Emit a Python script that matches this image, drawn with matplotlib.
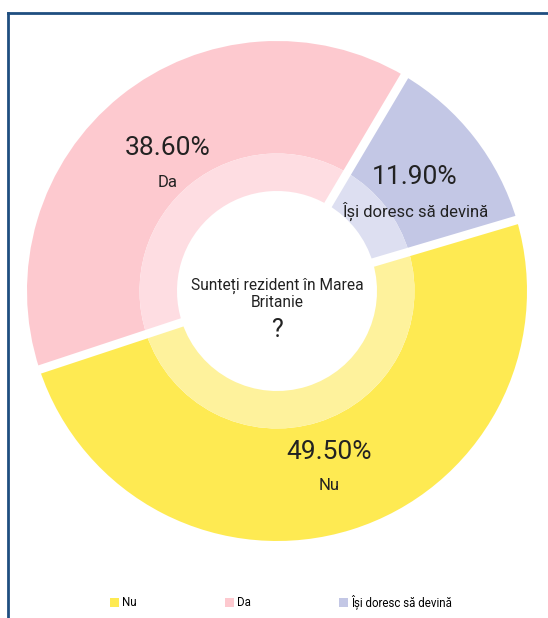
import matplotlib.pyplot as plt
from matplotlib.patches import Patch
from matplotlib.lines import Line2D
import numpy as np

plt.rcParams['font.family'] = ['Roboto', 'DejaVu Sans']

# Data
categories = ['Nu', 'Da', 'Își doresc să devină']
values = [49.5, 38.6, 11.9]
colors = ['#FEEA52', '#FDC9CF', '#C3C7E5']
light_colors = ['#FEF29C', '#FEDDE2', '#DDDFF1']
center_title = 'Sunteți rezident în Marea\nBritanie'

W, H = 548, 618
fig = plt.figure(figsize=(W / 100, H / 100), dpi=100)
fig.patch.set_facecolor('white')

# donut centre ~ (277, 291) px, outer radius ~250 px
cx, cy, R = 277, 291, 250
ax = fig.add_axes([(cx - R) / W, (H - cy - R) / H, 2 * R / W, 2 * R / H])
ax.set_aspect('equal')
ax.axis('off')

start = 16.5
# outer (saturated) ring
wedges, _ = ax.pie(values, colors=colors, startangle=start, counterclock=False,
                   radius=1.0, wedgeprops=dict(width=1.0 - 0.55, linewidth=0))
# inner (lighter) ring
ax.pie(values, colors=light_colors, startangle=start, counterclock=False,
       radius=0.55, wedgeprops=dict(width=0.55 - 0.40, linewidth=0))
# white gaps between slices
for w in wedges:
    a = np.deg2rad(w.theta1)
    ax.plot([0.3 * np.cos(a), 1.05 * np.cos(a)], [0.3 * np.sin(a), 1.05 * np.sin(a)],
            color='white', linewidth=6.2, solid_capstyle='butt')
ax.set_xlim(-1, 1)
ax.set_ylim(-1, 1)

# slice labels
r_lab = 0.70
for w, val, name in zip(wedges, values, categories):
    mid = np.deg2rad((w.theta1 + w.theta2) / 2)
    x, y = r_lab * np.cos(mid), r_lab * np.sin(mid) - 0.04
    ax.text(x, y + 0.065, f'{val:.2f}%', ha='center', va='center', fontsize=19, color='#222222')
    ax.text(x, y - 0.07, name, ha='center', va='center', fontsize=12, color='#222222')

# centre text
ax.text(0, -0.012, center_title, ha='center', va='center', fontsize=11.2, color='#222222',
        linespacing=1.1)
ax.text(0, -0.157, '?', ha='center', va='center', fontsize=18, color='#222222')

# legend
handles = [Patch(facecolor=c, edgecolor='none') for c in colors]
fig.legend(handles, categories, loc='center', bbox_to_anchor=(0.513, 1 - 602 / H), ncol=3,
           frameon=False, fontsize=8.3, handlelength=0.8, handleheight=0.8, handletextpad=0.3,
           columnspacing=7.6)

# blue border (left and top edges visible)
bx, by = 7.5 / W, 1 - 12.5 / H
fig.add_artist(Line2D([bx, bx], [0, by], color='#1F4E80', linewidth=2, transform=fig.transFigure))
fig.add_artist(Line2D([bx, 1], [by, by], color='#1F4E80', linewidth=2, transform=fig.transFigure))

fig.savefig('out.png', dpi=100)
